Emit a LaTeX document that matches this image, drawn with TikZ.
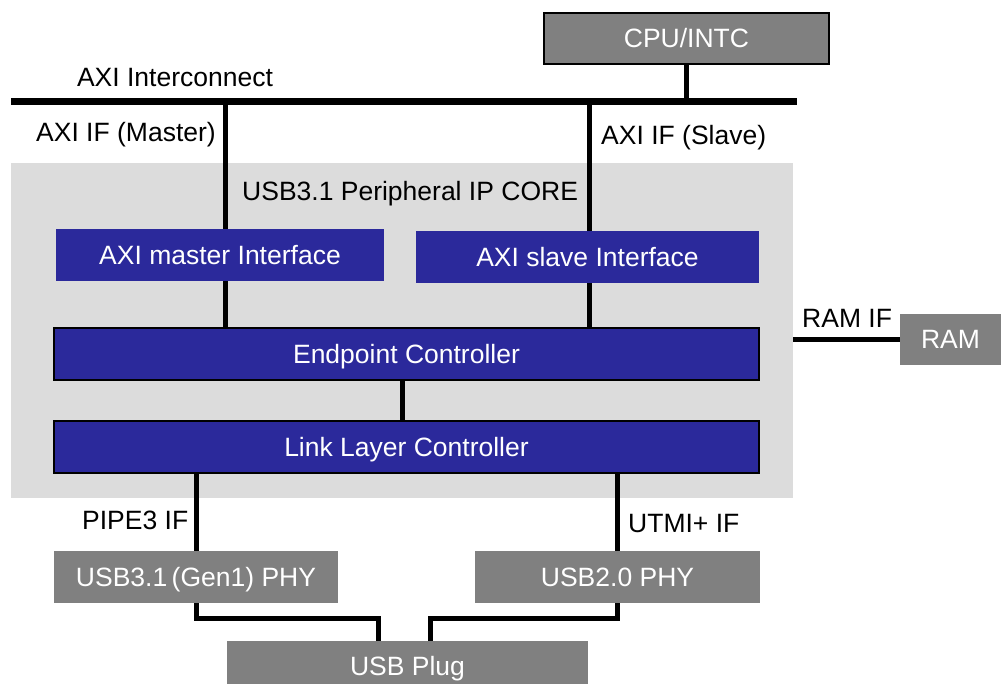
\documentclass[tikz,border=0pt]{standalone}
\usepackage{fontspec}
\setmainfont{Liberation Sans}
\usetikzlibrary{backgrounds}
\definecolor{ipblue}{RGB}{43,41,155}
\definecolor{blockgray}{RGB}{128,128,128}
\definecolor{coregray}{RGB}{220,220,220}
\tikzset{
  blk/.style={fill=ipblue,text=white,inner sep=0pt,minimum height=52pt,text height=19pt,text depth=0pt},
  phy/.style={fill=blockgray,text=white,inner sep=0pt,minimum height=52pt,text height=19pt,text depth=0pt},
  wire/.style={line width=5pt},
  lbl/.style={inner sep=0pt,anchor=base},
}
\begin{document}
\begin{tikzpicture}[x=1pt,y=-1pt,font=\fontsize{26.5}{30}\selectfont]
\useasboundingbox (0,0) rectangle (1001,684);
% blocks
\node[phy,draw=black,line width=1.5pt,minimum width=285pt,minimum height=51pt] (cpu) at (686.5,38.5) {CPU/INTC};
\coordinate (busL) at (11,102);
\coordinate (busR) at (797,102);
\node[blk,minimum width=328pt] (axim) at (220,255) {AXI master Interface};
\node[blk,minimum width=343pt] (axis) at (587.5,257) {AXI slave Interface};
\node[blk,draw=black,line width=1.5pt,minimum width=705pt] (epc) at (406.5,354) {Endpoint Controller};
\node[blk,draw=black,line width=1.5pt,minimum width=705pt] (llc) at (406.5,447) {Link Layer Controller};
\node[phy,minimum width=101pt,minimum height=51pt] (ram) at (950.5,339.5) {RAM};
\node[phy,minimum width=284pt] (phy3) at (196,577) {USB3.1\,(Gen1) PHY};
\node[phy,minimum width=285pt] (phy2) at (617.5,577) {USB2.0 PHY};
\node[phy,minimum width=361pt,minimum height=50pt] (plug) at (407.5,666) {USB Plug};
% labels
\node[lbl] (lbus) at (175,87) {AXI Interconnect};
\node[lbl,anchor=base east] (lmif) at (216,142) {AXI IF (Master)};
\node[lbl,anchor=base west] (lsif) at (601,145) {AXI IF (Slave)};
\node[lbl,anchor=base west] (lcore) at (242,201) {USB3.1 Peripheral IP CORE};
\node[lbl,anchor=base west] (lram) at (802,328) {RAM IF};
\node[lbl,anchor=base west] (lpipe) at (82,529) {PIPE3 IF};
\node[lbl,anchor=base west] (lutmi) at (628,532) {UTMI+ IF};
% wires
\begin{scope}[on background layer]
\node[fill=coregray,inner sep=0pt,minimum width=782pt,minimum height=335pt] (core) at (402,330.5) {};
\draw[line width=7pt] (busL) -- (busR);
\draw[wire] (cpu.south) -- (cpu.south |- busL);
\coordinate (mtap) at (225,102);
\coordinate (stap) at (589,102);
\draw[wire] (mtap) -- (mtap |- epc.north);
\draw[wire] (stap) -- (stap |- epc.north);
\draw[wire] ([xshift=-4.5pt]epc.south) -- ([xshift=-4.5pt]llc.north);
\draw[wire] (phy3.north) -- (phy3.north |- llc.south);
\draw[wire] (phy2.north) -- (phy2.north |- llc.south);
\draw[wire] (ram.west) -- (core.east |- ram.west);
\draw[wire] (phy3.south) -- ++(0,15) -| ([xshift=-29.5pt]plug.north);
\draw[wire] (phy2.south) -- ++(0,15) -| ([xshift=22.5pt]plug.north);
\end{scope}
\end{tikzpicture}
\end{document}
